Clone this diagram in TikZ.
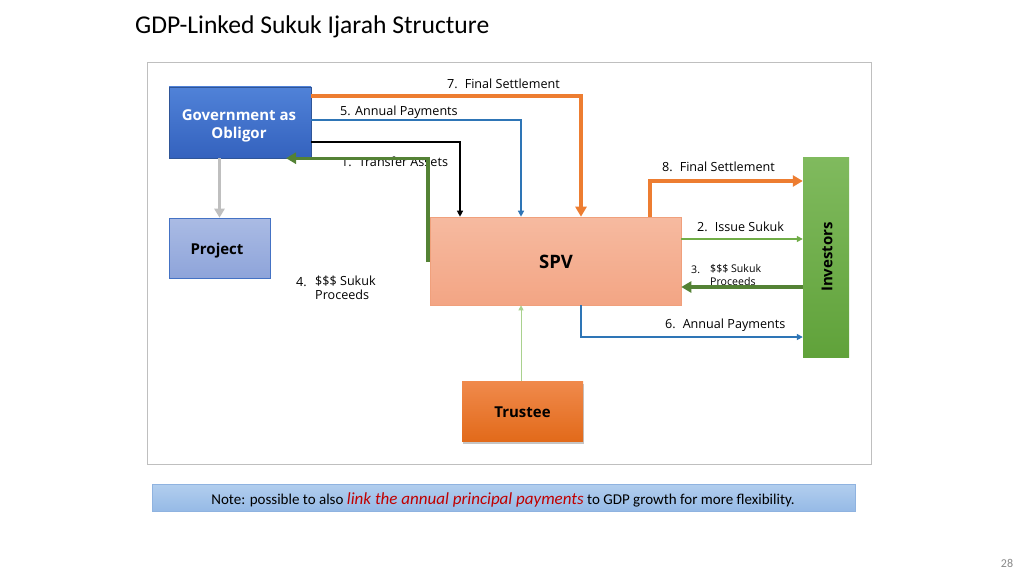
\documentclass[tikz,border=0pt]{standalone}
\usepackage{fontspec}
\setmainfont{Open Sans}
\newfontfamily\calib{Carlito}
\usetikzlibrary{arrows.meta,shadows}
\definecolor{orgline}{HTML}{ED7D31}
\definecolor{blueline}{HTML}{2E75B6}
\definecolor{dgreen}{HTML}{548235}
\definecolor{lgreen}{HTML}{70AD47}
\definecolor{tgreen}{HTML}{A9D18E}
\definecolor{grayline}{HTML}{BFBFBF}
\definecolor{framegray}{HTML}{BFBFBF}
\definecolor{notered}{HTML}{C00000}
\tikzset{
  lbl/.style={inner sep=0pt, font=\fontsize{12.6}{14.5}\selectfont, anchor=west},
  smlbl/.style={inner sep=0pt, font=\fontsize{10.6}{12.5}\selectfont, anchor=west, align=left},
  boxtxt/.style={font=\bfseries\fontsize{15}{18}\selectfont, align=center},
  thickorange/.style={draw=orgline, line width=3.3pt, -{Triangle[length=10pt,width=11pt]}},
  thinblue/.style={draw=blueline, line width=1.4pt, -{Triangle[length=6pt,width=6pt]}},
  thinblack/.style={draw=black, line width=1.2pt, -{Triangle[length=6pt,width=6pt]}},
  thickgreen/.style={draw=dgreen, line width=3.3pt, -{Triangle[length=10pt,width=11pt]}},
  thingreen/.style={draw=lgreen, line width=1.2pt, -{Triangle[length=6pt,width=6pt]}},
  trustline/.style={draw=tgreen, line width=0.9pt, -{Triangle[length=5pt,width=5pt]}},
  grayarrow/.style={draw=grayline, line width=3pt, -{Triangle[length=9pt,width=10pt]}},
}
\begin{document}
\begin{tikzpicture}[x=1pt,y=-1pt]
\useasboundingbox (0,0) rectangle (1024,575);
\fill[white] (0,0) rectangle (1024,575);
% title
\node[anchor=west, inner sep=0pt, font=\calib\fontsize{25.6}{30}\selectfont] (title) at (135,27) {GDP-Linked Sukuk Ijarah Structure};
% frame
\draw[framegray, line width=1pt] (147,63) rectangle (871,464);
% boxes
\node[draw={rgb,255:red,47;green,85;blue,151}, top color={rgb,255:red,80;green,130;blue,216}, bottom color={rgb,255:red,52;green,98;blue,190}, minimum width=142pt, minimum height=71pt, inner sep=0pt, anchor=center] (gov) at (240,122.5) {};
\node[boxtxt, text=white] (govtxt) at (239,125.5) {Government as\\Obligor};
\node[draw={rgb,255:red,68;green,114;blue,196}, line width=0.6pt, top color={rgb,255:red,170;green,187;blue,228}, bottom color={rgb,255:red,142;green,164;blue,218}, minimum width=101pt, minimum height=60pt, inner sep=0pt] (project) at (219.5,248) {};
\node[boxtxt] (projtxt) at (217,251) {Project};
\node[draw={rgb,255:red,240;green,160;blue,124}, line width=0.6pt, top color={rgb,255:red,246;green,186;blue,160}, bottom color={rgb,255:red,243;green,165;blue,132}, minimum width=251pt, minimum height=88pt, inner sep=0pt] (spv) at (555.5,261) {};
\node[font=\bfseries\fontsize{18.5}{22}\selectfont] (spvtxt) at (556,262) {SPV};
\node[top color={rgb,255:red,128;green,186;blue,94}, bottom color={rgb,255:red,96;green,162;blue,58}, minimum width=46pt, minimum height=200pt, inner sep=0pt] (inv) at (826,257) {};
\node[boxtxt, rotate=90] (invtxt) at (827,257) {Investors};
\node[drop shadow={opacity=0.45, shadow xshift=1pt, shadow yshift=-3pt}, top color={rgb,255:red,240;green,138;blue,76}, bottom color={rgb,255:red,226;green,106;blue,26}, minimum width=121pt, minimum height=60pt, inner sep=0pt] (trustee) at (522.5,411) {};
\node[boxtxt] (trusttxt) at (522.5,412.5) {Trustee};
% note bar
\node[draw={rgb,255:red,143;green,179;blue,224}, line width=0.6pt, top color={rgb,255:red,178;green,206;blue,238}, bottom color={rgb,255:red,150;green,186;blue,230}, minimum width=703pt, minimum height=27pt, inner sep=0pt] (note) at (503.5,497.5) {};
\node[font=\calib\fontsize{15}{17}\selectfont, inner sep=0pt] (notetxt) at (503,500) {Note: possible to also {\color{notered}\itshape\fontsize{17}{19}\selectfont link the annual principal payments} to GDP growth for more flexibility.};
\node[font=\calib\fontsize{12}{14}\selectfont, text={rgb,255:red,137;green,137;blue,137}, inner sep=0pt] (pgnum) at (1007,563) {28};
% helper coordinates
\coordinate (r96) at (0,96);
\coordinate (r120) at (0,120);
\coordinate (r142) at (0,142);
\coordinate (r181) at (0,181);
\coordinate (r239) at (0,239);
\coordinate (r262) at (0,262);
\coordinate (r287) at (0,287);
\coordinate (r337) at (0,337);
\coordinate (c286) at (286,0);
\coordinate (c428) at (428,0);
\coordinate (c460) at (460,0);
\coordinate (c521) at (521,0);
\coordinate (c581) at (581,0);
\coordinate (c650) at (650,0);
% labels
\node[lbl] (l7) at (447,83.5) {7.\hspace{7pt}Final Settlement};
\node[lbl] (l5) at (340,112.5) {5. Annual Payments};
\node[lbl] (l1) at (341,161.5) {1.\hspace{7pt}Transfer Assets};
\node[lbl] (l4n) at (296,282.5) {4.};
\node[lbl, align=left, anchor=north west] (l4) at (315,275.5) {\$\$\$ Sukuk\\Proceeds};
\node[lbl] (l8) at (662,166.5) {8.\hspace{7pt}Final Settlement};
\node[lbl] (l2) at (697,226.5) {2.\hspace{7pt}Issue Sukuk};
\node[smlbl] (l3n) at (691,270) {3.};
\node[smlbl, anchor=north west] (l3) at (710,264.5) {\$\$\$ Sukuk\\Proceeds};
\node[lbl] (l6) at (665,325.5) {6.\hspace{7pt}Annual Payments};
% connectors
\draw[thickorange] (gov.east |- r96) -| (spv.north -| c581);
\draw[thinblue] (gov.east |- r120) -| (spv.north -| c521);
\draw[thinblack] (gov.east |- r142) -| (spv.north -| c460);
\draw[thickgreen] (c428 |- r262) -- (c428 |- gov.south) -- (c286 |- gov.south);
\draw[grayarrow] (gov.south -| project.north) -- (project.north);
\draw[thickorange] (spv.north -| c650) |- (inv.west |- r181);
\draw[thingreen] (spv.east |- r239) -- (inv.west |- r239);
\draw[thickgreen] (inv.west |- r287) -- (spv.east |- r287);
\draw[thinblue] (spv.south -| c581) |- (inv.west |- r337);
\draw[trustline] (trustee.north -| c521) -- (spv.south -| c521);
\end{tikzpicture}
\end{document}
